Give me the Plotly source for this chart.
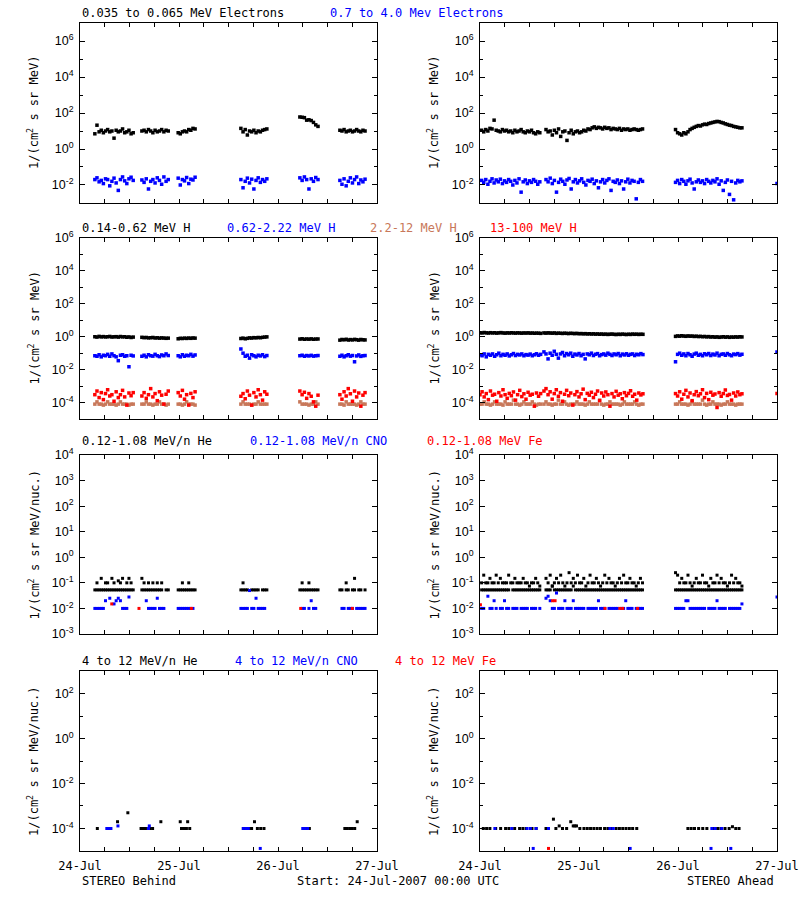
import numpy as np
import plotly.graph_objects as go

# ---------------- time axis ----------------
DAY_HOURS = [0, 24, 48, 72]
DAY_LABELS = ["24-Jul", "25-Jul", "26-Jul", "27-Jul"]
SIX_HOURS = [6, 12, 18, 30, 36, 42, 54, 60, 66]

# data segments (hours since 24-Jul-2007 00:00 UTC)
SEG_B = [(3.6, 12.9), (15.0, 21.4), (23.8, 27.9), (39.0, 45.3), (53.3, 57.7), (63.0, 69.1)]
SEG_A1 = [(0.4, 14.5), (16.0, 39.4), (47.4, 63.5), (72.0, 72.0)]
SEG_A2 = [(0.0, 14.7), (15.5, 39.5), (47.4, 63.5), (72.0, 72.0)]

# ---------------- row 1: electrons ----------------
e_lo_B = [
    [7, 21, 9, 11, 8, 10, 12, 9, 10, 4, 11, 9, 10, 13, 8, 9, 11, 7, 8],
    [10, 11, 9, 12, 10, 8, 11, 9, 10, 12, 9, 11, 10],
    [8, 7, 9, 10, 9, 12, 11, 14, 13],
    [14, 9, 12, 6, 10, 9, 11, 8, 10, 9, 11, 12, 13],
    [60, 58, 55, 40, 42, 38, 30, 22, 18],
    [11, 10, 12, 9, 10, 11, 9, 10, 12, 10, 9, 11, 10],
]
e_hi_B = [
    [0.02, 0.025, 0.015, 0.018, 0.012, 0.022, 0.02, 0.009, 0.016, 0.024, 0.013, 0.005, 0.02, 0.028, 0.017, 0.012, 0.022, 0.027, 0.018],
    [0.019, 0.014, 0.022, 0.006, 0.016, 0.02, 0.013, 0.025, 0.018, 0.011, 0.028, 0.016, 0.02],
    [0.024, 0.01, 0.02, 0.017, 0.026, 0.012, 0.021, 0.019, 0.027],
    [0.02, 0.007, 0.016, 0.024, 0.013, 0.021, 0.006, 0.018, 0.025, 0.014, 0.02, 0.016, 0.022],
    [0.025, 0.018, 0.028, 0.02, 0.006, 0.022, 0.016, 0.026, 0.02],
    [0.018, 0.011, 0.022, 0.009, 0.016, 0.025, 0.013, 0.02, 0.028, 0.012, 0.019, 0.015, 0.021],
]
e_lo_A = [
    [11, 9, 12, 10, 14, 13, 40, 11, 10, 9, 12, 10, 11, 9, 10, 8, 11, 9, 10, 12, 9, 8, 10, 9, 11, 8, 7, 9, 8],
    [12, 9, 10, 6, 11, 8, 13, 5, 9, 10, 3, 8, 11, 7, 9, 10, 8, 9, 11, 10, 13, 12, 15, 17, 14, 16, 15, 13, 16, 14,
     15, 12, 14, 13, 12, 14, 11, 13, 12, 13, 11, 12, 13, 12, 11, 12, 13],
    [12, 8, 7, 6, 8, 7, 9, 12, 14, 16, 18, 20, 19, 22, 24, 23, 26, 28, 30, 32, 34, 33, 30, 28, 25, 23, 21, 20, 18,
     17, 16, 15, 15],
    [],
]
e_hi_A = [
    [0.018, 0.014, 0.02, 0.011, 0.016, 0.022, 0.013, 0.019, 0.015, 0.021, 0.012, 0.017, 0.014, 0.02, 0.016, 0.01,
     0.018, 0.013, 0.022, 0.004, 0.015, 0.019, 0.012, 0.017, 0.014, 0.02, 0.016, 0.011, 0.015],
    [0.02, 0.015, 0.024, 0.012, 0.018, 0.004, 0.014, 0.021, 0.016, 0.011, 0.019, 0.023, 0.006, 0.015, 0.02, 0.013,
     0.017, 0.022, 0.014, 0.01, 0.018, 0.016, 0.021, 0.012, 0.017, 0.007, 0.015, 0.02, 0.013, 0.018, 0.022, 0.005,
     0.016, 0.014, 0.019, 0.012, 0.017, 0.006, 0.015, 0.021, 0.013, 0.018, 0.016, 0.0017, 0.014, 0.02, 0.016],
    [0.014, 0.018, 0.012, 0.02, 0.016, 0.011, 0.017, 0.021, 0.013, 0.006, 0.015, 0.019, 0.014, 0.017, 0.012, 0.02,
     0.016, 0.013, 0.018, 0.015, 0.022, 0.011, 0.017, 0.005, 0.014, 0.019, 0.003, 0.016, 0.0015, 0.013, 0.018,
     0.015, 0.017],
    [0.012],
]

# ---------------- row 2: protons ----------------
h1_B = [
    [1.0, 0.95, 1.05, 0.98, 1.02, 0.97, 1.0, 1.04, 0.96, 0.99, 1.01, 0.95, 1.03, 0.98, 1.0, 0.93, 0.97, 0.9, 0.95],
    [0.92, 0.88, 0.9, 0.85, 0.87, 0.9, 0.84, 0.86, 0.82, 0.85, 0.83, 0.8, 0.82],
    [0.75, 0.8, 0.78, 0.82, 0.79, 0.83, 0.8, 0.84, 0.82],
    [0.78, 0.82, 0.75, 0.8, 0.85, 0.83, 0.88, 0.86, 0.9, 0.87, 0.92, 0.95, 0.98],
    [0.72, 0.75, 0.7, 0.73, 0.71, 0.74, 0.7, 0.72, 0.73],
    [0.62, 0.68, 0.65, 0.7, 0.63, 0.67, 0.64, 0.69, 0.66, 0.62, 0.68, 0.65, 0.64],
]
h2_B = [
    [0.07, 0.065, 0.08, 0.06, 0.075, 0.07, 0.085, 0.065, 0.09, 0.07, 0.06, 0.035, 0.075, 0.08, 0.065, 0.07, 0.015, 0.075, 0.068],
    [0.065, 0.075, 0.06, 0.08, 0.07, 0.066, 0.085, 0.07, 0.062, 0.078, 0.07, 0.09, 0.072],
    [0.07, 0.06, 0.08, 0.065, 0.075, 0.07, 0.085, 0.066, 0.078],
    [0.18, 0.1, 0.065, 0.075, 0.05, 0.08, 0.07, 0.06, 0.075, 0.068, 0.08, 0.062, 0.072],
    [0.07, 0.075, 0.065, 0.072, 0.068, 0.074, 0.066, 0.07, 0.072],
    [0.065, 0.075, 0.06, 0.07, 0.08, 0.066, 0.072, 0.03, 0.068, 0.078, 0.064, 0.07, 0.072],
]
h3_B = [
    [8e-5, 1.1e-4, 8e-5, 8e-5, 7e-5, 8e-5, 1.1e-4, 8e-5, 8e-5, 8e-5, 7e-5, 8e-5, 1.1e-4, 8e-5, 8e-5, 8e-5, 7e-5, 8e-5, 8e-5],
    [8e-5, 8e-5, 1.1e-4, 8e-5, 8e-5, 7e-5, 8e-5, 8e-5, 1.1e-4, 8e-5, 8e-5, 7e-5, 8e-5],
    [8e-5, 8e-5, 7e-5, 8e-5, 1.1e-4, 8e-5, 8e-5, 8e-5, 7e-5],
    [8e-5, 1.1e-4, 8e-5, 8e-5, 8e-5, 7e-5, 8e-5, 8e-5, 1.1e-4, 8e-5, 8e-5, 8e-5, 8e-5],
    [1.1e-4, 8e-5, 8e-5, 8e-5, 7e-5, 8e-5, 8e-5, 1.1e-4, 8e-5],
    [8e-5, 8e-5, 7e-5, 1.1e-4, 8e-5, 8e-5, 8e-5, 8e-5, 7e-5, 8e-5, 1.1e-4, 8e-5, 8e-5],
]
h4_B = [
    [3e-4, 5e-4, 2e-4, 4e-4, 1.5e-4, 3.5e-4, 6e-4, 2.5e-4, 3e-4, 1.2e-4, 4.5e-4, 2e-4, 3e-4, 5.5e-4, 2.2e-4, 7e-5, 3.8e-4, 2.6e-4, 4e-4],
    [2.5e-4, 4e-4, 1.8e-4, 3e-4, 7e-4, 2.2e-4, 3.5e-4, 1.3e-4, 4.5e-4, 2.8e-4, 8e-5, 3.2e-4, 5e-4],
    [4e-4, 2.5e-4, 5.5e-4, 1.6e-4, 3e-4, 7e-5, 3.6e-4, 2e-4, 4.5e-4],
    [2.4e-4, 3.5e-4, 1.7e-4, 5e-4, 2.8e-4, 7e-5, 4e-4, 2.2e-4, 6e-4, 3e-4, 1.4e-4, 4.5e-4, 3.2e-4],
    [5e-4, 3e-4, 4.2e-4, 1.8e-4, 3.5e-4, 2.4e-4, 1.1e-4, 6e-5, 2.8e-4],
    [3e-4, 1.6e-4, 4.5e-4, 2.5e-4, 7e-4, 3.4e-4, 1.2e-4, 5e-4, 2.2e-4, 3.8e-4, 6e-5, 2.8e-4, 4e-4],
]
h1_A = [
    [1.75, 1.7, 1.8, 1.72, 1.68, 1.76, 1.7, 1.74, 1.66, 1.72, 1.78, 1.7, 1.65, 1.72, 1.68, 1.74, 1.7, 1.66, 1.72,
     1.69, 1.64, 1.7, 1.67, 1.72, 1.65, 1.68, 1.62, 1.66, 1.64, 1.6],
    [1.7, 1.66, 1.72, 1.68, 1.64, 1.7, 1.6, 1.66, 1.62, 1.58, 1.64, 1.6, 1.56, 1.62, 1.58, 1.55, 1.6, 1.52, 1.56,
     1.5, 1.54, 1.48, 1.52, 1.46, 1.5, 1.44, 1.48, 1.42, 1.46, 1.4, 1.44, 1.38, 1.42, 1.45, 1.4, 1.36, 1.42, 1.38,
     1.44, 1.4, 1.36, 1.42, 1.38, 1.45, 1.4, 1.43, 1.38, 1.42, 1.4],
    [1.05, 1.12, 1.08, 1.15, 1.1, 1.06, 1.12, 1.08, 1.1, 1.04, 1.08, 1.02, 1.06, 1.0, 1.04, 0.98, 1.02, 0.96, 1.0,
     0.94, 0.98, 0.92, 0.96, 1.0, 0.94, 0.98, 0.92, 0.96, 0.94, 0.98, 0.95, 1.0, 0.97],
    [],
]
h2_A = [
    [0.08, 0.07, 0.09, 0.06, 0.085, 0.075, 0.09, 0.065, 0.08, 0.1, 0.07, 0.085, 0.075, 0.09, 0.068, 0.08, 0.095,
     0.072, 0.085, 0.078, 0.09, 0.07, 0.082, 0.076, 0.088, 0.07, 0.08, 0.092, 0.075, 0.085],
    [0.12, 0.09, 0.045, 0.1, 0.075, 0.13, 0.085, 0.05, 0.09, 0.11, 0.07, 0.095, 0.08, 0.1, 0.065, 0.088, 0.078,
     0.095, 0.07, 0.085, 0.045, 0.09, 0.08, 0.1, 0.072, 0.086, 0.094, 0.07, 0.082, 0.09, 0.076, 0.1, 0.085, 0.072,
     0.09, 0.08, 0.095, 0.07, 0.088, 0.078, 0.092, 0.075, 0.085, 0.09, 0.072, 0.086, 0.08, 0.094, 0.082],
    [0.03, 0.085, 0.1, 0.075, 0.09, 0.07, 0.095, 0.08, 0.065, 0.088, 0.1, 0.075, 0.085, 0.07, 0.092, 0.08, 0.095,
     0.072, 0.088, 0.078, 0.1, 0.07, 0.085, 0.09, 0.075, 0.095, 0.08, 0.07, 0.088, 0.082, 0.094, 0.076, 0.086],
    [0.12],
]
h3_A = [
    [8e-5, 8e-5, 1.1e-4, 8e-5, 8e-5, 7e-5, 8e-5, 1.1e-4, 8e-5, 8e-5, 8e-5, 7e-5, 1.1e-4, 8e-5, 8e-5, 8e-5, 1.4e-4,
     8e-5, 8e-5, 7e-5, 8e-5, 1.1e-4, 8e-5, 8e-5, 8e-5, 1.1e-4, 8e-5, 7e-5, 8e-5, 8e-5],
    [8e-5, 1.1e-4, 8e-5, 8e-5, 7e-5, 8e-5, 8e-5, 1.4e-4, 8e-5, 8e-5, 1.1e-4, 8e-5, 7e-5, 8e-5, 8e-5, 8e-5, 1.1e-4,
     8e-5, 8e-5, 8e-5, 7e-5, 8e-5, 1.1e-4, 8e-5, 8e-5, 8e-5, 8e-5, 1.4e-4, 8e-5, 7e-5, 8e-5, 8e-5, 1.1e-4, 8e-5,
     8e-5, 8e-5, 8e-5, 7e-5, 8e-5, 1.1e-4, 8e-5, 8e-5, 8e-5, 8e-5, 1.1e-4, 8e-5, 7e-5, 8e-5, 8e-5],
    [8e-5, 8e-5, 1.1e-4, 8e-5, 8e-5, 8e-5, 7e-5, 8e-5, 1.1e-4, 8e-5, 8e-5, 8e-5, 8e-5, 1.4e-4, 8e-5, 7e-5, 8e-5,
     8e-5, 1.1e-4, 8e-5, 8e-5, 8e-5, 7e-5, 8e-5, 8e-5, 1.1e-4, 8e-5, 8e-5, 8e-5, 7e-5, 8e-5, 8e-5, 8e-5],
    [],
]
h4_A = [
    [3e-4, 4.5e-4, 2.2e-4, 3.5e-4, 1.5e-4, 5e-4, 2.8e-4, 3.2e-4, 1.2e-4, 4e-4, 2.5e-4, 6e-4, 3e-4, 1.8e-4, 3.6e-4,
     2.6e-4, 4.4e-4, 1.4e-4, 3e-4, 5.5e-4, 2.3e-4, 3.4e-4, 1.6e-4, 4.2e-4, 2.8e-4, 3.2e-4, 6e-5, 3.8e-4, 2.4e-4, 3.5e-4],
    [5e-4, 7e-4, 3e-4, 4.5e-4, 1.6e-4, 3.5e-4, 6e-4, 2.4e-4, 4e-4, 1.2e-4, 3.2e-4, 5.5e-4, 2.6e-4, 3.8e-4, 7e-5,
     3e-4, 4.6e-4, 2.2e-4, 3.4e-4, 6.5e-4, 1.5e-4, 3.6e-4, 2.8e-4, 4.2e-4, 2e-4, 3.2e-4, 5e-4, 1.3e-4, 3.8e-4,
     2.5e-4, 4.4e-4, 3e-4, 6e-5, 3.5e-4, 2.2e-4, 4.8e-4, 2.8e-4, 3.4e-4, 1.7e-4, 4e-4, 2.6e-4, 3.6e-4, 5.2e-4,
     2.4e-4, 3.2e-4, 1.4e-4, 3.8e-4, 2.9e-4, 3.4e-4],
    [3.5e-4, 2.5e-4, 4.5e-4, 1.6e-4, 3.2e-4, 5.5e-4, 2.2e-4, 3.8e-4, 1.3e-4, 3e-4, 4.6e-4, 2.6e-4, 3.4e-4, 6e-4,
     2e-4, 3.6e-4, 1.5e-4, 4.2e-4, 2.8e-4, 3.3e-4, 5e-5, 4e-4, 2.4e-4, 3.5e-4, 5.8e-4, 2.7e-4, 3.1e-4, 1.4e-4,
     3.8e-4, 2.5e-4, 4.4e-4, 3e-4, 3.4e-4],
    [3.6e-4],
]

# ---------------- row 3: 0.12-1.08 MeV/n heavy ions ----------------
N = None
he_lo_B = [
    [0.053, 0.053, 0.053, 0.053, 0.053, 0.053, 0.053, 0.053, 0.053, 0.053, 0.053, 0.053, 0.053, 0.053, 0.053, 0.053, 0.053, 0.053, 0.053],
    [0.053, 0.053, 0.053, 0.053, 0.053, 0.053, 0.053, 0.053, 0.053, 0.053, N, 0.053, 0.053],
    [0.053, 0.053, 0.053, 0.053, 0.053, 0.053, 0.053, 0.053, 0.053],
    [0.053, 0.053, 0.053, 0.053, N, 0.053, 0.053, 0.053, 0.053, N, 0.053, 0.053, 0.053],
    [0.053, 0.053, 0.053, 0.053, 0.053, 0.053, 0.053, 0.053, 0.053],
    [0.053, 0.053, N, 0.053, 0.053, N, 0.053, 0.053, N, 0.053, 0.053, N, 0.053],
]
he_hi_B = [
    [N, 0.1, N, 0.15, N, 0.1, 0.1, N, 0.15, 0.1, N, 0.12, 0.1, 0.15, N, 0.1, 0.15, 0.1, N],
    [0.15, 0.1, N, 0.1, N, 0.1, N, 0.1, N, 0.1, N, N, N],
    [N, N, 0.1, N, N, 0.1, N, N, N],
    [N, 0.1, N, N, N, N, N, N, N, N, N, N, N],
    [N, 0.1, N, N, 0.1, N, N, N, N],
    [N, N, N, 0.1, N, N, N, 0.15, N, N, N, N, N],
]
cno_B = [
    [0.01, 0.01, 0.01, 0.01, 0.01, 0.02, N, 0.025, N, 0.015, 0.02, 0.025, 0.02, 0.01, 0.01, 0.01, 0.028, N, N],
    [N, N, 0.02, 0.01, 0.01, 0.01, 0.01, 0.025, 0.01, 0.01, 0.01, N, N],
    [0.01, 0.01, 0.01, 0.01, 0.01, 0.01, 0.01, 0.01, N],
    [0.01, 0.01, 0.01, 0.01, 0.05, 0.01, 0.01, 0.025, 0.01, 0.01, 0.01, 0.01, N],
    [N, 0.01, 0.01, N, 0.01, 0.02, 0.01, 0.01, N],
    [N, 0.01, 0.01, N, 0.01, 0.01, 0.01, N, 0.01, 0.01, 0.01, 0.01, 0.01],
]
fe_B_h = [7.7, 14.3, 27.0, 53.5, 66.0]
fe_B_v = [0.015, 0.01, 0.01, 0.01, 0.01]

he_lo_A = [
    [0.053, 0.053, 0.053, 0.053, 0.053, 0.053, 0.053, 0.053, 0.053, 0.053, 0.053, 0.053, 0.053, 0.053, N, 0.053,
     0.053, 0.053, 0.053, 0.053, 0.053, 0.053, 0.053, 0.053, 0.053, 0.053, 0.053, 0.053, 0.053],
    [0.053, 0.053, 0.053, 0.075, 0.053, 0.053, 0.053, 0.053, 0.053, 0.053, 0.053, 0.053, 0.053, 0.075, 0.053, 0.053,
     0.053, 0.053, 0.053, 0.053, 0.053, 0.053, 0.053, 0.053, 0.053, 0.053, 0.053, 0.053, 0.053, 0.053, 0.053, 0.053,
     0.053, 0.053, 0.053, 0.053, 0.053, 0.053, 0.053, 0.053, 0.053, 0.053, 0.053, 0.053, 0.053, 0.053, 0.053],
    [0.053, 0.053, 0.053, 0.053, 0.053, 0.053, 0.053, 0.053, 0.053, 0.053, 0.053, 0.053, 0.053, 0.053, 0.053, 0.053,
     0.053, 0.053, 0.053, 0.053, 0.053, 0.053, 0.053, 0.053, 0.053, 0.053, 0.053, 0.053, 0.053, 0.053, 0.053, 0.053, 0.053],
    [],
]
he_hi_A = [
    [0.1, 0.2, 0.1, 0.1, 0.15, 0.1, 0.1, 0.2, 0.1, 0.15, 0.1, 0.1, 0.1, 0.2, 0.1, 0.1, 0.15, 0.1, 0.1, 0.1, 0.15,
     0.1, 0.1, 0.075, 0.1, 0.1, 0.15, 0.1, 0.075],
    [0.15, 0.1, 0.2, 0.075, 0.1, 0.15, 0.1, 0.2, 0.1, 0.075, 0.1, 0.25, 0.1, 0.15, 0.1, 0.2, 0.1, 0.1, 0.15, 0.075,
     0.1, 0.2, 0.1, 0.1, 0.15, 0.1, 0.075, 0.1, 0.2, 0.1, 0.15, 0.1, 0.1, 0.075, 0.1, 0.15, 0.1, 0.2, 0.1, 0.1,
     0.15, 0.1, 0.1, 0.075, 0.1, 0.15, 0.1],
    [0.25, 0.2, 0.1, 0.15, 0.1, 0.1, 0.2, 0.1, 0.075, 0.1, 0.15, 0.1, 0.1, 0.2, 0.1, 0.1, 0.075, 0.15, 0.1, 0.1,
     0.2, 0.1, 0.15, 0.1, 0.1, 0.075, 0.1, 0.2, 0.1, 0.15, 0.1, 0.1, 0.075],
    [],
]
cno_A = [
    [0.01, 0.01, N, 0.03, 0.01, 0.01, 0.02, 0.01, N, 0.01, 0.01, 0.02, 0.01, 0.01, N, 0.01, 0.01, 0.01, N, 0.01,
     0.01, 0.01, 0.01, N, 0.01, 0.01, 0.01, N, 0.01],
    [0.025, 0.03, 0.02, 0.01, 0.01, 0.04, 0.01, 0.01, 0.01, 0.02, 0.01, 0.01, 0.01, 0.02, 0.01, 0.01, 0.01, 0.01,
     0.01, N, 0.01, 0.01, 0.01, 0.01, 0.01, 0.02, 0.01, 0.01, 0.01, N, 0.01, 0.01, 0.01, 0.01, 0.01, N, 0.01, 0.01,
     0.02, 0.01, 0.01, 0.01, N, 0.01, 0.01, 0.01, 0.01],
    [0.01, 0.01, 0.01, 0.01, 0.01, 0.02, 0.02, 0.01, 0.01, 0.01, 0.01, 0.01, 0.01, 0.01, 0.01, N, 0.01, 0.01, 0.01,
     0.01, 0.02, 0.01, 0.01, 0.01, 0.01, N, 0.01, 0.01, 0.01, 0.01, 0.01, 0.01, 0.015],
    [0.028],
]
fe_A_h = [0.1, 17.6, 18.2, 30.3, 33.9, 34.6, 38.2]
fe_A_v = [0.014, 0.02, 0.02, 0.01, 0.01, 0.01, 0.01]

# ---------------- row 4: 4-12 MeV/n heavy ions ----------------
he4_B_h = [4.2, 6.9, 7.3, 9.1, 11.6, 14.8, 15.3, 15.8, 16.4, 17.0, 17.6, 19.6, 24.3, 24.6, 25.2, 25.8, 26.1, 26.6,
           39.6, 40.2, 41.0, 41.6, 42.3, 43.0, 43.8, 44.6, 55.0, 55.6, 64.2, 64.8, 65.4, 66.0, 66.6, 67.2]
he4_B_v = [1e-4, 1e-4, 1e-4, 2e-4, 5e-4, 1e-4, 1e-4, 1e-4, 1e-4, 1e-4, 1e-4, 2e-4, 2e-4, 1e-4, 1e-4, 1e-4, 2e-4, 1e-4,
           1e-4, 1e-4, 1e-4, 1e-4, 2e-4, 1e-4, 1e-4, 1e-4, 1e-4, 1e-4, 1e-4, 1e-4, 1e-4, 1e-4, 1e-4, 2e-4]
cno4_B_h = [6.5, 7.0, 7.5, 9.2, 16.6, 16.8, 39.6, 40.2, 40.8, 43.7, 54.0, 54.6, 55.2]
cno4_B_v = [1e-4, 1e-4, 1e-4, 1.3e-4, 1e-4, 1.3e-4, 1e-4, 1e-4, 1e-4, 1.3e-5, 1e-4, 1e-4, 1e-4]

he4_A_h = [0.8, 1.6, 2.4, 3.8, 5.0, 6.2, 7.0, 8.4, 9.6, 10.4, 11.2, 12.6, 13.6,
           16.0, 17.8, 18.4, 19.2, 20.0, 21.0, 22.0, 22.6, 23.0, 23.4, 24.2, 25.2, 26.0, 26.8, 27.6, 28.4, 29.2,
           30.2, 31.0, 32.0, 33.0, 33.8, 34.6, 35.4, 36.2, 37.0, 38.0,
           50.4, 51.2, 52.0, 53.0, 54.0, 55.0, 56.6, 57.6, 58.4, 59.4, 60.4, 61.2, 62.0, 62.8]
he4_A_v = [1e-4, 1e-4, 1e-4, 1e-4, 1e-4, 1e-4, 1e-4, 1e-4, 1e-4, 1e-4, 1e-4, 1e-4, 1e-4,
           1e-4, 2.6e-4, 1e-4, 1.3e-4, 1e-4, 1e-4, 2e-4, 1.3e-4, 1.3e-4, 1.3e-4, 1e-4, 1e-4, 1e-4, 1e-4, 1e-4, 1e-4,
           1e-4, 1e-4, 1e-4, 1e-4, 1e-4, 1e-4, 1e-4, 1e-4, 1e-4, 1e-4, 1e-4,
           1e-4, 1e-4, 1e-4, 1e-4, 1e-4, 1e-4, 1e-4, 1e-4, 1e-4, 1e-4, 1e-4, 1.2e-4, 1e-4, 1e-4]
cno4_A_h = [3.6, 7.7, 11.4, 12.2, 13.6, 16.6, 31.5, 32.3, 56.2, 57.0, 58.6, 12.9, 36.4, 56.0, 60.8]
cno4_A_v = [1e-4, 1e-4, 1e-4, 1e-4, 1e-4, 1e-4, 1e-4, 1e-4, 1e-4, 1e-4, 1e-4, 1.3e-5, 1.3e-5, 1.3e-5, 1.3e-5]
fe4_A_h = [16.6]
fe4_A_v = [1.3e-5]

# ---------------- titles ----------------
SALMON = "#c8785a"
ROW_TITLES = [
    [("0.035 to 0.065 MeV Electrons", 80, "black"), ("0.7 to 4.0 Mev Electrons", 328, "blue")],
    [("0.14-0.62 MeV H", 80, "black"), ("0.62-2.22 MeV H", 225, "blue"),
     ("2.2-12 MeV H", 368, SALMON), ("13-100 MeV H", 488, "red")],
    [("0.12-1.08 MeV/n He", 80, "black"), ("0.12-1.08 MeV/n CNO", 248, "blue"), ("0.12-1.08 MeV Fe", 425, "red")],
    [("4 to 12 MeV/n He", 80, "black"), ("4 to 12 MeV/n CNO", 233, "blue"), ("4 to 12 MeV Fe", 393, "red")],
]
Y_TITLES = ["1/(cm<sup>2</sup> s sr MeV)", "1/(cm<sup>2</sup> s sr MeV)",
            "1/(cm<sup>2</sup> s sr MeV/nuc.)", "1/(cm<sup>2</sup> s sr MeV/nuc.)"]
Y_RANGES = [(-3, 7), (-5, 6), (-3, 4), (-5, 3)]
Y_MAJOR = [[-2, 0, 2, 4, 6], [-4, -2, 0, 2, 4, 6], [-3, -2, -1, 0, 1, 2, 3, 4], [-4, -2, 0, 2]]
Y_MINOR = [[-1, 1, 3, 5], [-3, -1, 1, 3, 5], [], [-3, -1, 1]]

# ---------------- geometry (pixels) ----------------
W, H = 800, 900
COL_PX = [(80, 377), (480, 777)]
ROW_PX = [(23, 203), (238, 419), (455, 634), (671, 851)]
TITLE_Y = [13, 228, 441, 661]
MONO = "DejaVu Sans Mono"
SANS = "Liberation Sans"

fig = go.Figure()


def seg_points(segs, vals):
    xs, ys = [], []
    for (a, b), v in zip(segs, vals):
        n = len(v)
        if n == 0:
            continue
        t = np.linspace(a, b, n) if n > 1 else np.array([a])
        xs.extend(t.tolist())
        ys.extend(v)
    return xs, ys


def add(k, x, y, color, size=3.5):
    fig.add_trace(go.Scatter(
        x=x, y=y, mode="markers", xaxis=f"x{k}", yaxis=f"y{k}",
        marker=dict(symbol="square", size=size, color=color, line=dict(width=0)),
        showlegend=False, hoverinfo="skip", cliponaxis=True))


# row 1
add(1, *seg_points(SEG_B, e_lo_B), "black")
add(1, *seg_points(SEG_B, e_hi_B), "blue")
add(2, *seg_points(SEG_A1, e_lo_A), "black")
add(2, *seg_points(SEG_A1, e_hi_A), "blue")
# row 2
add(3, *seg_points(SEG_B, h1_B), "black")
add(3, *seg_points(SEG_B, h2_B), "blue")
add(3, *seg_points(SEG_B, h3_B), SALMON)
add(3, *seg_points(SEG_B, h4_B), "red")
add(4, *seg_points(SEG_A2, h1_A), "black")
add(4, *seg_points(SEG_A2, h2_A), "blue")
add(4, *seg_points(SEG_A2, h3_A), SALMON)
add(4, *seg_points(SEG_A2, h4_A), "red")
# row 3
add(5, *seg_points(SEG_B, he_lo_B), "black", 3)
add(5, *seg_points(SEG_B, he_hi_B), "black", 3)
add(5, *seg_points(SEG_B, cno_B), "blue", 3)
add(5, fe_B_h, fe_B_v, "red", 3)
add(6, *seg_points(SEG_A1, he_lo_A), "black", 3)
add(6, *seg_points(SEG_A1, he_hi_A), "black", 3)
add(6, *seg_points(SEG_A1, cno_A), "blue", 3)
add(6, fe_A_h, fe_A_v, "red", 3)
# row 4
add(7, he4_B_h, he4_B_v, "black", 3)
add(7, cno4_B_h, cno4_B_v, "blue", 3)
add(8, he4_A_h, he4_A_v, "black", 3)
add(8, cno4_A_h, cno4_A_v, "blue", 3)
add(8, fe4_A_h, fe4_A_v, "red", 3)


def sup(e):
    return "10<sup>%d</sup>" % e


layout = dict(width=W, height=H, margin=dict(l=0, r=0, t=0, b=0, pad=0, autoexpand=False),
              paper_bgcolor="white", plot_bgcolor="white", hovermode=False, showlegend=False,
              font=dict(family=MONO, size=12, color="black"))
annotations = []
for r in range(4):
    top, bot = ROW_PX[r]
    ydom = [1 - bot / H, 1 - top / H]
    lo, hi = Y_RANGES[r]
    for c in range(2):
        k = r * 2 + c + 1
        x0, x1 = COL_PX[c]
        last = (r == 3)
        layout[f"xaxis{k}"] = dict(
            domain=[x0 / W, x1 / W], anchor=f"y{k}", range=[0, 72], automargin=False,
            showgrid=False, zeroline=False, showline=True, linecolor="black", linewidth=1,
            mirror="ticks", ticks="inside", ticklen=4, tickcolor="black",
            tickmode="array", tickvals=DAY_HOURS, ticktext=DAY_LABELS,
            showticklabels=last, tickfont=dict(family=MONO, size=12),
            ticklabelstandoff=4,
            minor=dict(tickmode="array", tickvals=SIX_HOURS, ticks="inside", ticklen=4, tickcolor="black"),
        )
        yax = dict(
            domain=ydom, anchor=f"x{k}", type="log", range=[lo - 0.0005, hi + 0.0005], automargin=False,
            showgrid=False, zeroline=False, showline=True, linecolor="black", linewidth=1,
            mirror="ticks", ticks="inside", ticklen=5, tickcolor="black",
            tickmode="array", tickvals=[10.0 ** e for e in Y_MAJOR[r]],
            ticktext=[sup(e) for e in Y_MAJOR[r]],
            tickfont=dict(family=SANS, size=12.5), ticklabelstandoff=3,
        )
        if Y_MINOR[r]:
            yax["minor"] = dict(tickmode="array", tickvals=[10.0 ** e for e in Y_MINOR[r]],
                                ticks="inside", ticklen=3, tickcolor="black")
        layout[f"yaxis{k}"] = yax
        annotations.append(dict(
            text=Y_TITLES[r], textangle=-90, xref="paper", yref="paper",
            x=(x0 - 47) / W, y=1 - (top + bot) / 2 / H, xanchor="center", yanchor="middle",
            showarrow=False, font=dict(family=MONO, size=12, color="black")))
    for text, px, color in ROW_TITLES[r]:
        annotations.append(dict(
            text=text, xref="paper", yref="paper", x=px / W, y=1 - TITLE_Y[r] / H,
            xanchor="left", yanchor="middle", showarrow=False,
            font=dict(family=MONO, size=12, color=color)))

annotations.append(dict(text="STEREO Behind", xref="paper", yref="paper", x=80 / W, y=1 - 881 / H,
                        xanchor="left", yanchor="middle", showarrow=False))
annotations.append(dict(text="Start: 24-Jul-2007 00:00 UTC", xref="paper", yref="paper", x=295 / W,
                        y=1 - 881 / H, xanchor="left", yanchor="middle", showarrow=False))
annotations.append(dict(text="STEREO Ahead", xref="paper", yref="paper", x=776 / W, y=1 - 881 / H,
                        xanchor="right", yanchor="middle", showarrow=False))
layout["annotations"] = annotations
fig.update_layout(**layout)
fig.write_html("out.html")
